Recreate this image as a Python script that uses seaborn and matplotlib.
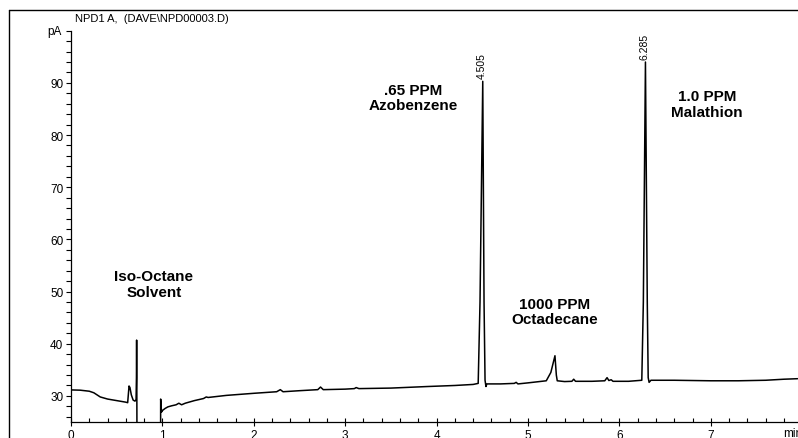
import matplotlib
matplotlib.use("Agg")
import matplotlib.pyplot as plt
from matplotlib.lines import Line2D
from matplotlib.ticker import FixedLocator, MultipleLocator
import seaborn as sns
import pandas as pd

# ---- data ----
time_min = [
    0.00, 0.10, 0.20, 0.25, 0.32, 0.40, 0.50, 0.60, 0.62,
    0.635, 0.645, 0.66, 0.68, 0.70, 0.712, 0.716, 0.718, 0.720, 0.722,
    0.98, 0.981, 0.99, 1.00, 1.03, 1.06, 1.10, 1.15, 1.18, 1.21, 1.25,
    1.35, 1.45, 1.48, 1.50, 1.70, 2.00, 2.25, 2.29, 2.32, 2.50, 2.70,
    2.73, 2.76, 3.00, 3.10, 3.12, 3.15, 3.50, 3.90, 4.20, 4.40, 4.455,
    4.475, 4.505, 4.519, 4.53, 4.54, 4.55, 4.70, 4.85, 4.87, 4.89, 5.00,
    5.10, 5.20, 5.25, 5.295, 5.31, 5.32, 5.40, 5.48, 5.50, 5.52, 5.70,
    5.84, 5.865, 5.885, 5.91, 5.93, 6.10, 6.245, 6.262, 6.285, 6.305,
    6.315, 6.325, 6.345, 6.60, 7.00, 7.30, 7.60, 7.80, 7.95,
]
signal_pA = [
    31.15, 31.1, 30.9, 30.6, 29.8, 29.4, 29.1, 28.8, 28.7,
    31.9, 31.6, 30.2, 29.2, 29.0, 29.3, 33.5, 40.7, 33.0, 20.0,
    20.0, 29.4, 26.9, 27.2, 27.6, 27.9, 28.1, 28.3, 28.6, 28.3, 28.6,
    29.1, 29.5, 29.8, 29.7, 30.1, 30.5, 30.8, 31.2, 30.8, 31.0, 31.2,
    31.7, 31.2, 31.3, 31.4, 31.6, 31.4, 31.5, 31.8, 32.0, 32.2, 32.4,
    48.0, 90.3, 48.0, 33.0, 31.8, 32.3, 32.3, 32.4, 32.6, 32.3, 32.5,
    32.7, 32.9, 34.5, 37.7, 34.0, 32.9, 32.75, 32.8, 33.2, 32.8, 32.8,
    32.9, 33.5, 32.95, 33.1, 32.8, 32.8, 33.0, 48.0, 94.0, 48.0,
    33.5, 32.6, 33.0, 33.0, 32.9, 32.9, 33.0, 33.2, 33.3,
]

peak_times = [4.505, 6.285]
peak_heights = [90.3, 94.0]
peak_labels = ["4.505", "6.285"]

compound_labels = ["Iso-Octane\nSolvent", ".65 PPM\nAzobenzene",
                   "1000 PPM\nOctadecane", "1.0 PPM\nMalathion"]
compound_x = [0.908, 3.742, 5.295, 6.958]
compound_y = [51.4, 87.2, 46.2, 86.0]

y_major_ticks = [30, 40, 50, 60, 70, 80, 90]
x_major_ticks = [0, 1, 2, 3, 4, 5, 6, 7]

title_text = "NPD1 A,  (DAVE\\NPD00003.D)"
y_unit = "pA"
x_unit = "min"

# ---- figure ----
sns.set_style("white")
plt.rcParams["font.family"] = ["Liberation Sans", "DejaVu Sans"]
plt.rcParams["text.color"] = "black"
plt.rcParams["xtick.color"] = "black"
plt.rcParams["ytick.color"] = "black"
plt.rcParams["axes.labelcolor"] = "black"

W, H = 798, 439
fig = plt.figure(figsize=(W / 100, H / 100), dpi=100)
ax = fig.add_axes([71 / W, 1 - 423 / H, 1 - 71 / W, (423 - 31.7) / H])

df = pd.DataFrame({"time": time_min, "signal": signal_pA})
sns.lineplot(data=df, x="time", y="signal", ax=ax, color="black",
             linewidth=1.1, estimator=None, sort=False)

ax.set_xlim(0, (W - 71) / 91.4)
ax.set_ylim(25, 100)
ax.set_xlabel("")
ax.set_ylabel("")

for s in ["top", "right"]:
    ax.spines[s].set_visible(False)
for s in ["left", "bottom"]:
    ax.spines[s].set_color("black")
    ax.spines[s].set_linewidth(0.9)

ax.yaxis.set_major_locator(FixedLocator(y_major_ticks))
ax.yaxis.set_minor_locator(MultipleLocator(2))
ax.xaxis.set_major_locator(FixedLocator(x_major_ticks))
ax.xaxis.set_minor_locator(MultipleLocator(0.2))

ax.tick_params(axis="y", which="both", direction="out", length=3.5,
               width=0.8, colors="black", labelsize=8.5, pad=2, left=True)
ax.tick_params(axis="x", which="major", direction="inout", length=6,
               width=0.8, colors="black", labelsize=8.5, pad=2, bottom=True)
ax.tick_params(axis="x", which="minor", direction="in", length=3,
               width=0.8, colors="black", bottom=True)

# peak retention-time labels
for t, h, lab in zip(peak_times, peak_heights, peak_labels):
    ax.annotate(lab, xy=(t, h), xytext=(-1, 3), textcoords="offset pixels",
                rotation=90, ha="center", va="bottom", fontsize=7.5,
                color="black")

# compound labels
for lab, x, y in zip(compound_labels, compound_x, compound_y):
    ax.text(x, y, lab, ha="center", va="center", fontsize=11,
            fontweight="bold", linespacing=1.15, color="black")

# unit labels
ax.annotate(y_unit, xy=(0, 100), xycoords=("axes fraction", "data"),
            xytext=(-9, 0), textcoords="offset pixels",
            ha="right", va="center", fontsize=8.5, color="black")
fig.text(783 / W, 1 - 434 / H, x_unit, ha="left", va="center", fontsize=8.5,
         color="black")

# title and outer frame
fig.text(75 / W, 1 - 19 / H, title_text, ha="left", va="center", fontsize=8,
         color="black")
fig.add_artist(Line2D([9 / W, 9 / W], [0, 1 - 11 / H], color="black",
                      linewidth=1.0, transform=fig.transFigure))
fig.add_artist(Line2D([9 / W, 1], [1 - 11 / H, 1 - 11 / H], color="black",
                      linewidth=1.0, transform=fig.transFigure))

fig.savefig("out.png", dpi=100)
